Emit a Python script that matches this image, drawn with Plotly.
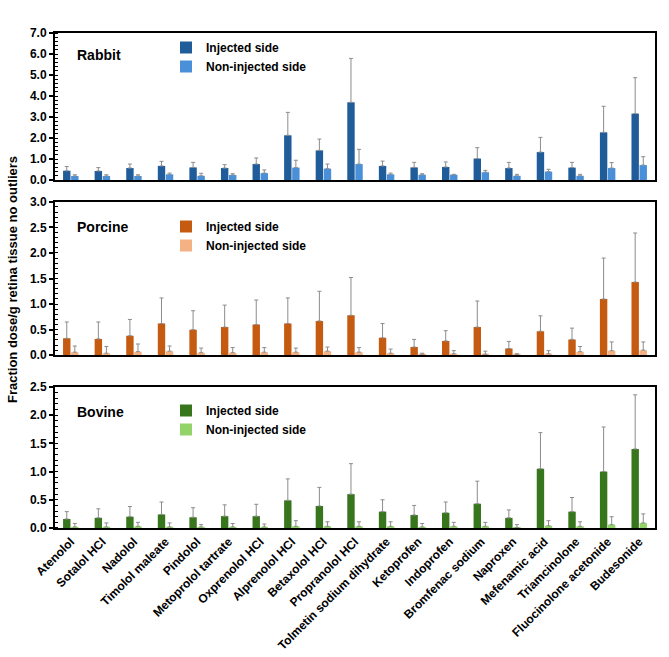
import plotly.graph_objects as go

drugs = ["Atenolol", "Sotalol HCl", "Nadolol", "Timolol maleate", "Pindolol",
         "Metoprolol tartrate", "Oxprenolol HCl", "Alprenolol HCl", "Betaxolol HCl",
         "Propranolol HCl", "Tolmetin sodium dihydrate", "Ketoprofen", "Indoprofen",
         "Bromfenac sodium", "Naproxen", "Mefenamic acid", "Triamcinolone",
         "Fluocinolone acetonide", "Budesonide"]

rabbit_inj = [0.44, 0.43, 0.57, 0.67, 0.60, 0.57, 0.76, 2.13, 1.41, 3.70,
              0.67, 0.60, 0.62, 1.02, 0.57, 1.33, 0.59, 2.27, 3.16]
rabbit_inj_sd = [0.20, 0.16, 0.19, 0.22, 0.24, 0.16, 0.29, 1.09, 0.54, 2.09,
                 0.23, 0.24, 0.24, 0.52, 0.27, 0.70, 0.25, 1.24, 1.71]
rabbit_non = [0.19, 0.19, 0.19, 0.27, 0.20, 0.24, 0.33, 0.59, 0.54, 0.76,
              0.27, 0.25, 0.25, 0.37, 0.20, 0.40, 0.20, 0.57, 0.71]
rabbit_non_sd = [0.06, 0.06, 0.06, 0.06, 0.12, 0.06, 0.15, 0.35, 0.22, 0.70,
                 0.06, 0.05, 0.02, 0.09, 0.07, 0.11, 0.07, 0.26, 0.40]

porcine_inj = [0.33, 0.32, 0.38, 0.62, 0.50, 0.55, 0.60, 0.62, 0.67, 0.78,
               0.34, 0.16, 0.28, 0.55, 0.13, 0.47, 0.31, 1.10, 1.43]
porcine_inj_sd = [0.32, 0.33, 0.32, 0.50, 0.37, 0.43, 0.48, 0.50, 0.58, 0.74,
                  0.28, 0.15, 0.20, 0.51, 0.14, 0.30, 0.22, 0.80, 0.96]
porcine_non = [0.06, 0.04, 0.07, 0.08, 0.05, 0.05, 0.06, 0.06, 0.08, 0.06,
               0.04, 0.02, 0.03, 0.02, 0.01, 0.03, 0.07, 0.09, 0.10]
porcine_non_sd = [0.12, 0.13, 0.15, 0.10, 0.09, 0.10, 0.09, 0.08, 0.08, 0.09,
                  0.08, 0.02, 0.06, 0.06, 0.02, 0.06, 0.10, 0.17, 0.16]

bovine_inj = [0.16, 0.18, 0.20, 0.24, 0.19, 0.21, 0.21, 0.49, 0.39, 0.60,
              0.29, 0.23, 0.27, 0.43, 0.18, 1.05, 0.29, 1.00, 1.40]
bovine_inj_sd = [0.13, 0.16, 0.18, 0.22, 0.17, 0.20, 0.21, 0.38, 0.33, 0.54,
                 0.21, 0.17, 0.19, 0.40, 0.14, 0.64, 0.25, 0.79, 0.96]
bovine_non = [0.02, 0.02, 0.03, 0.02, 0.02, 0.02, 0.02, 0.03, 0.03, 0.03,
              0.03, 0.02, 0.03, 0.03, 0.01, 0.04, 0.03, 0.06, 0.09]
bovine_non_sd = [0.06, 0.07, 0.07, 0.07, 0.04, 0.06, 0.05, 0.10, 0.08, 0.08,
                 0.08, 0.06, 0.07, 0.07, 0.05, 0.09, 0.08, 0.14, 0.16]

panels = [
    dict(name="Rabbit", inj=rabbit_inj, inj_sd=rabbit_inj_sd, non=rabbit_non, non_sd=rabbit_non_sd,
         c1="#1F5C99", c2="#4A90D9", yrange=[0, 7], dtick=1, minor=0.2, domain=[0.703, 1.0]),
    dict(name="Porcine", inj=porcine_inj, inj_sd=porcine_inj_sd, non=porcine_non, non_sd=porcine_non_sd,
         c1="#C55A11", c2="#F4B183", yrange=[0, 3], dtick=0.5, minor=0.1, domain=[0.349, 0.659]),
    dict(name="Bovine", inj=bovine_inj, inj_sd=bovine_inj_sd, non=bovine_non, non_sd=bovine_non_sd,
         c1="#38761D", c2="#92D46A", yrange=[0, 2.5], dtick=0.5, minor=0.1, domain=[0.0, 0.285]),
]

FONT = "Liberation Sans"
W, H = 669, 657
ml, mr, mt, mb = 55, 14, 33, 129
PW, PH = W - ml - mr, H - mt - mb

fig = go.Figure()
layout = {}
legend_names = ["legend", "legend2", "legend3"]

for i, p in enumerate(panels):
    sfx = "" if i == 0 else str(i + 1)
    xa, ya = "x" + sfx, "y" + sfx
    err_style = dict(type="data", symmetric=False, color="#8C8C8C", thickness=1, width=2)
    fig.add_trace(go.Bar(
        x=drugs, y=p["inj"], name="Injected side", marker=dict(color=p["c1"], line=dict(width=0)),
        error_y=dict(array=p["inj_sd"], arrayminus=[0] * len(drugs), **err_style),
        xaxis=xa, yaxis=ya, offsetgroup="a", legend=legend_names[i]))
    fig.add_trace(go.Bar(
        x=drugs, y=p["non"], name="Non-injected side", marker=dict(color=p["c2"], line=dict(width=0)),
        error_y=dict(array=p["non_sd"], arrayminus=[0] * len(drugs), **err_style),
        xaxis=xa, yaxis=ya, offsetgroup="b", legend=legend_names[i]))

    layout["xaxis" + sfx] = dict(
        domain=[0, 1], anchor=ya, showline=True, linecolor="black", linewidth=2, mirror=True,
        ticks="", showticklabels=(i == 2), tickangle=-45, showgrid=False, automargin=False,
        tickfont=dict(family=FONT, size=12, color="black", weight="bold"),
        matches=None if i == 0 else "x")
    layout["yaxis" + sfx] = dict(
        domain=p["domain"], anchor=xa, range=p["yrange"], dtick=p["dtick"], tick0=0,
        tickformat=".1f", showline=True, linecolor="black", linewidth=2, mirror=True,
        ticks="outside", ticklen=4, tickwidth=1.5, tickcolor="black", showgrid=False, zeroline=False,
        automargin=False,
        minor=dict(dtick=p["minor"], ticks="inside", ticklen=3, tickcolor="black", tickwidth=1),
        tickfont=dict(family=FONT, size=12, color="black", weight="bold"))

legend_top_px = [33, 212, 396]
for i, ln in enumerate(legend_names):
    layout[ln] = dict(x=(166 - ml) / PW, y=1 - (legend_top_px[i] - mt) / PH,
                      xanchor="left", yanchor="top",
                      bgcolor="rgba(0,0,0,0)", itemwidth=30, tracegroupgap=0,
                      font=dict(family=FONT, size=12, color="black", weight="bold"))

annotations = []
label_y = [55, 227, 412]
for i, p in enumerate(panels):
    annotations.append(dict(text=p["name"], x=(75 - ml) / PW, y=1 - (label_y[i] - mt) / PH,
                            xref="paper", yref="paper",
                            showarrow=False, xanchor="left", yanchor="middle",
                            font=dict(family=FONT, size=14, color="black", weight="bold")))

annotations.append(dict(text="Fraction dose/g retina tissue no outliers", textangle=-90,
                        x=(12 - ml) / PW, y=1 - (280 - mt) / PH,
                        xref="paper", yref="paper", showarrow=False,
                        xanchor="center", yanchor="middle",
                        font=dict(family=FONT, size=13, color="black", weight="bold")))

fig.update_layout(
    width=W, height=H, margin=dict(l=ml, r=mr, t=mt, b=mb),
    paper_bgcolor="white", plot_bgcolor="white",
    barmode="group", bargap=0.49, bargroupgap=0.08,
    showlegend=True, annotations=annotations, **layout)

fig.write_html("out.html")
